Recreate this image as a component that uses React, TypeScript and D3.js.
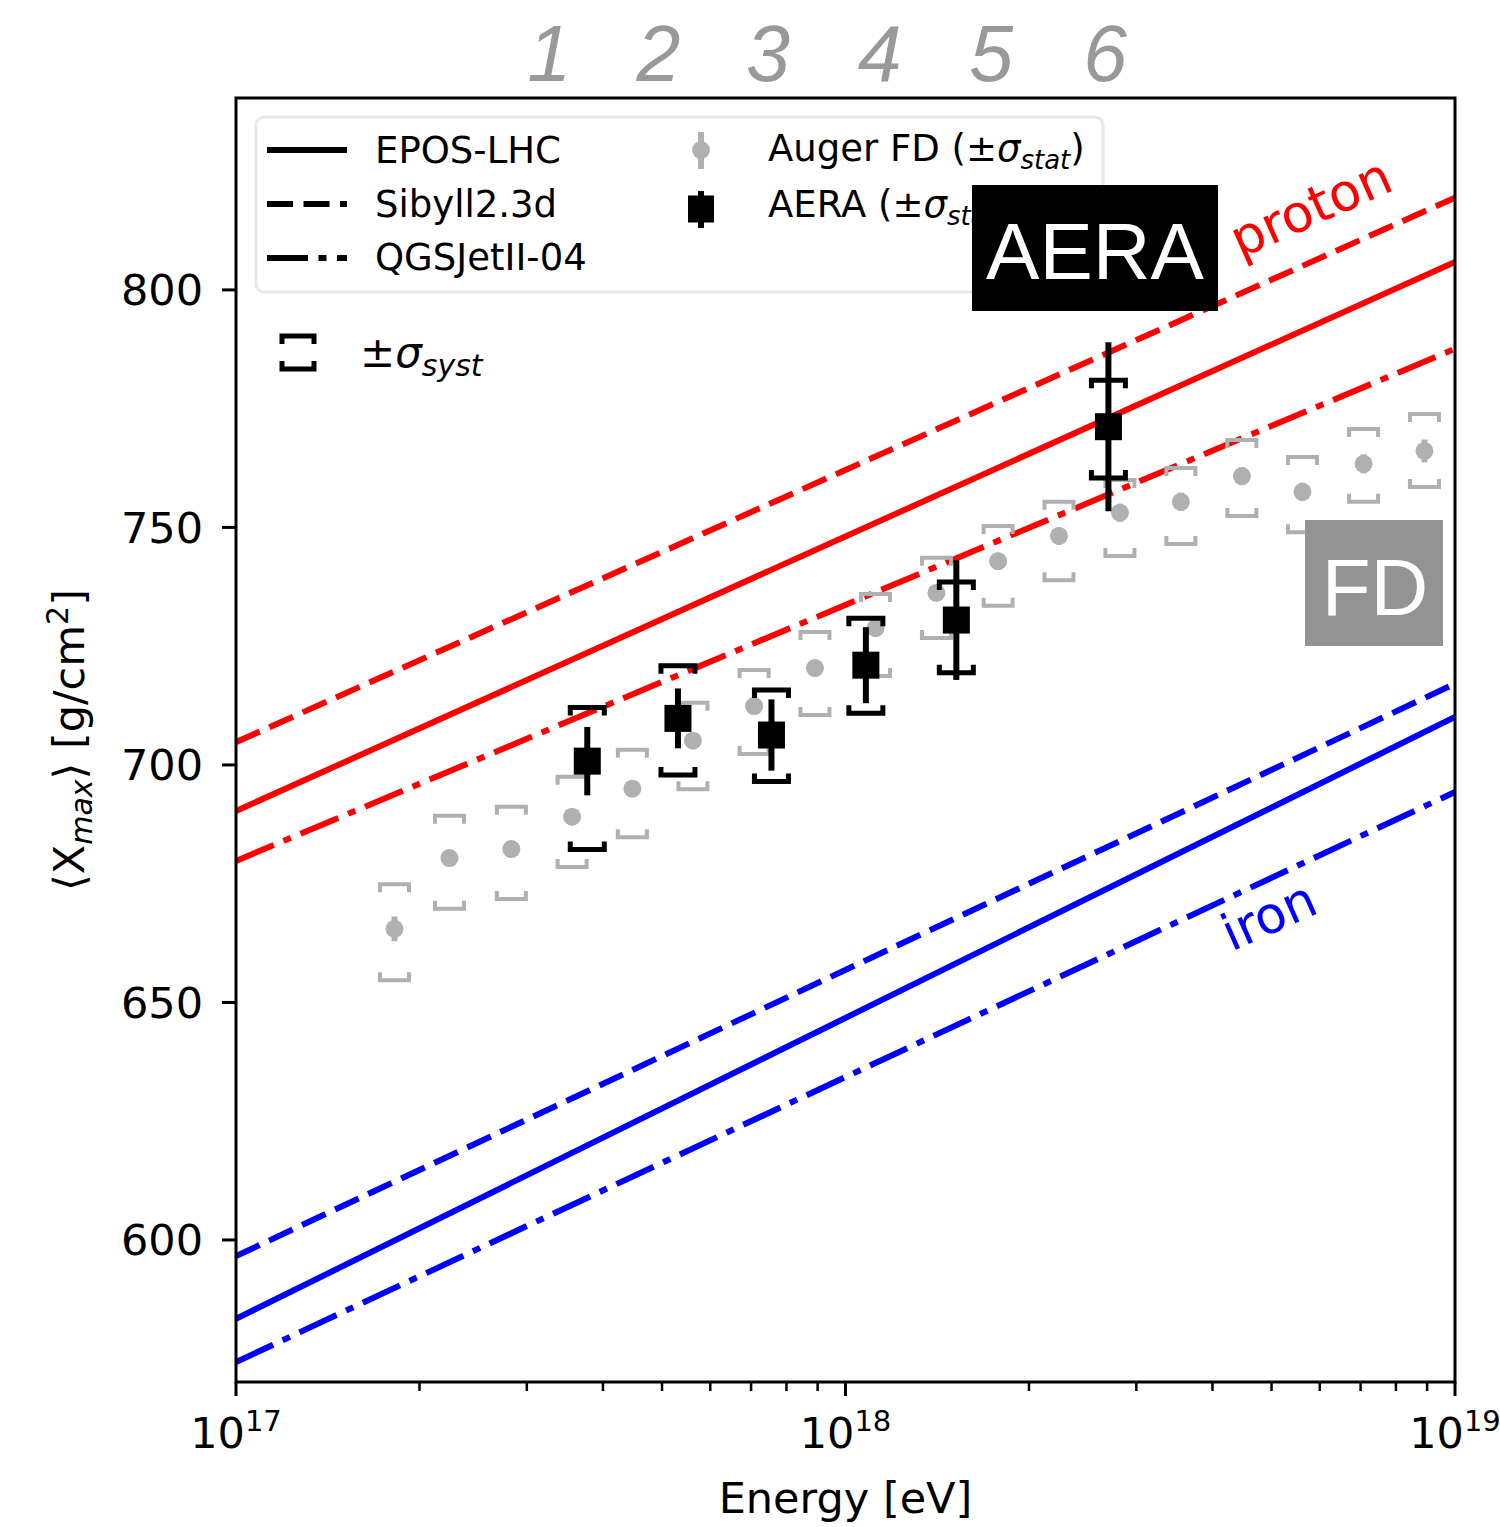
import React from "react";
import * as d3 from "d3";

// ---------- data ----------
const modelNames = ["EPOS-LHC", "Sibyll2.3d", "QGSJetII-04"];
const modelDash = ["", "26 10.5", "41 10.5 8 10.5"];
const lineEnergies = [1e17, 1e19];
const protonLines = [
  [690.3, 805.9],
  [704.8, 819.4],
  [679.8, 787.6],
];
const ironLines = [
  [583.4, 710.1],
  [596.6, 717.1],
  [574.3, 694.3],
];

// Auger FD (energies in EeV)
const fdEnergy = [0.182, 0.224, 0.283, 0.356, 0.447, 0.562, 0.708, 0.891, 1.12, 1.41, 1.78, 2.24, 2.82, 3.55, 4.47, 5.62, 7.08, 8.91];
const fdXmax = [665.5, 680.4, 682.3, 689.1, 695.0, 705.1, 712.4, 720.4, 728.8, 736.2, 742.9, 748.2, 753.1, 755.4, 760.8, 757.5, 763.4, 766.1];
const fdStat = [2.6, 1.5, 1.4, 1.5, 1.5, 1.5, 1.5, 1.6, 1.6, 1.7, 1.8, 1.8, 1.9, 1.9, 1.9, 1.9, 2.0, 2.4];
const fdSysUp = [674.9, 689.3, 691.2, 697.5, 703.2, 713.1, 720.0, 728.0, 736.0, 743.6, 750.3, 755.4, 760.0, 762.5, 768.4, 764.8, 770.7, 773.9];
const fdSysLow = [654.7, 669.7, 671.8, 678.5, 684.8, 694.9, 702.3, 710.5, 718.7, 726.7, 733.5, 738.9, 744.0, 746.5, 752.4, 749.0, 755.4, 758.5];

// AERA
const aeraEnergy = [0.377, 0.531, 0.756, 1.08, 1.52, 2.70];
const aeraXmax = [700.8, 709.8, 706.3, 721.0, 730.5, 771.2];
const aeraStat = [7.2, 6.3, 7.5, 8.0, 12.6, 17.8];
const aeraSysUp = [712.1, 720.9, 715.8, 730.9, 738.5, 781.0];
const aeraSysLow = [682.2, 697.9, 696.5, 710.9, 719.4, 760.4];

// bin numbers on top (log10 E/eV)
const binLabels = ["1", "2", "3", "4", "5", "6"];
const binLogE = [17.514, 17.693, 17.873, 18.056, 18.239, 18.426];

const yTicks = [600, 650, 700, 750, 800];
const xMajor = [17, 18, 19];

// ---------- layout ----------
const W = 1500, H = 1527;
const L = 236, R = 1455, T = 98, B = 1382;
const FONT = "DejaVu Sans";

export default function App() {
  const x = d3.scaleLog().domain([1e17, 1e19]).range([L, R]);
  const y = d3.scaleLinear().domain([570.1, 840.4]).range([B, T]);
  const line = d3.line<[number, number]>().x((d) => x(d[0])).y((d) => y(d[1]));

  const minor: number[] = [];
  for (const dec of [1e17, 1e18]) for (let k = 2; k <= 9; k++) minor.push(dec * k);

  const bracket = (cx: number, cy: number, w: number, leg: number, dir: number) =>
    `M${cx - w / 2},${cy + dir * leg} L${cx - w / 2},${cy} L${cx + w / 2},${cy} L${cx + w / 2},${cy + dir * leg}`;

  const grey = "#b0b0b0";

  return (
    <svg width={W} height={H} style={{ position: "absolute", left: 0, top: 0, background: "#fff" }} fontFamily={FONT}>
      <rect x={0} y={0} width={W} height={H} fill="#fff" />
      <defs>
        <clipPath id="plot">
          <rect x={L} y={T} width={R - L} height={B - T} />
        </clipPath>
      </defs>

      {/* model lines */}
      <g clipPath="url(#plot)" fill="none" strokeWidth={6}>
        {protonLines.map((v, i) => (
          <path key={"p" + i} d={line(lineEnergies.map((e, j) => [e, v[j]]) as any) || ""} stroke="#ff0000" strokeDasharray={modelDash[i] || undefined} />
        ))}
        {ironLines.map((v, i) => (
          <path key={"f" + i} d={line(lineEnergies.map((e, j) => [e, v[j]]) as any) || ""} stroke="#0000ff" strokeDasharray={modelDash[i] || undefined} />
        ))}
      </g>

      {/* Auger FD */}
      <g>
        {fdEnergy.map((e, i) => {
          const cx = x(e * 1e18);
          return (
            <g key={"fd" + i}>
              <path d={bracket(cx, y(fdSysUp[i]), 29, 8, 1)} stroke={grey} strokeWidth={4} fill="none" />
              <path d={bracket(cx, y(fdSysLow[i]), 29, 8, -1)} stroke={grey} strokeWidth={4} fill="none" />
              <line x1={cx} x2={cx} y1={y(fdXmax[i] + fdStat[i])} y2={y(fdXmax[i] - fdStat[i])} stroke={grey} strokeWidth={6} />
              <circle cx={cx} cy={y(fdXmax[i])} r={9} fill={grey} />
            </g>
          );
        })}
      </g>

      {/* AERA */}
      <g>
        {aeraEnergy.map((e, i) => {
          const cx = x(e * 1e18);
          const cy = y(aeraXmax[i]);
          return (
            <g key={"ae" + i}>
              <path d={bracket(cx, y(aeraSysUp[i]), 34, 8, 1)} stroke="#000" strokeWidth={5} fill="none" />
              <path d={bracket(cx, y(aeraSysLow[i]), 34, 8, -1)} stroke="#000" strokeWidth={5} fill="none" />
              <line x1={cx} x2={cx} y1={y(aeraXmax[i] + aeraStat[i])} y2={y(aeraXmax[i] - aeraStat[i])} stroke="#000" strokeWidth={6} />
              <rect x={cx - 13.5} y={cy - 13.5} width={27} height={27} fill="#000" />
            </g>
          );
        })}
      </g>

      {/* legend */}
      <rect x={256} y={117} width={847} height={175} rx={8} fill="#fff" fillOpacity={0.8} stroke="#e8e8e8" strokeWidth={3} />
      {modelNames.map((n, i) => (
        <g key={"lg" + i}>
          <line x1={267} x2={347} y1={150 + i * 54} y2={150 + i * 54} stroke="#000" strokeWidth={6} strokeDasharray={modelDash[i] || undefined} />
          <text x={375} y={163 + i * 53.5} fontSize={37}>{n}</text>
        </g>
      ))}
      <line x1={701} x2={701} y1={132} y2={169} stroke={grey} strokeWidth={6} />
      <circle cx={701} cy={150} r={9} fill={grey} />
      <text x={768} y={161} fontSize={37}>
        Auger FD (±<tspan fontStyle="italic">σ</tspan>
        <tspan fontStyle="italic" fontSize={26} dy={8}>stat</tspan>
        <tspan dy={-8}>)</tspan>
      </text>
      <line x1={701} x2={701} y1={191} y2={228} stroke="#000" strokeWidth={6} />
      <rect x={688} y={195.5} width={26} height={27} fill="#000" />
      <text x={768} y={217} fontSize={37}>
        AERA (±<tspan fontStyle="italic">σ</tspan>
        <tspan fontStyle="italic" fontSize={26} dy={8}>stat</tspan>
        <tspan dy={-8}>)</tspan>
      </text>

      {/* syst legend */}
      <path d={bracket(298, 336, 32, 8, 1)} stroke="#000" strokeWidth={5} fill="none" />
      <path d={bracket(298, 369, 32, 8, -1)} stroke="#000" strokeWidth={5} fill="none" />
      <text x={360} y={367} fontSize={42}>
        ±<tspan fontStyle="italic">σ</tspan>
        <tspan fontStyle="italic" fontSize={30} dy={9}>syst</tspan>
      </text>

      {/* AERA box */}
      <rect x={972} y={185} width={246} height={126} fill="#000" />
      <text x={1095} y={279} fontSize={80} fill="#fff" textAnchor="middle" fontFamily="Liberation Sans">AERA</text>

      {/* FD box */}
      <rect x={1305} y={520} width={138} height={126} fill="#939393" />
      <text x={1375} y={615} fontSize={80} fill="#fff" textAnchor="middle" fontFamily="Liberation Sans">FD</text>

      {/* proton / iron labels */}
      <text transform="translate(1318,224) rotate(-24)" fontSize={52} fill="#ff0000" textAnchor="middle">proton</text>
      <text transform="translate(1276,932) rotate(-24)" fontSize={51} fill="#0000ff" textAnchor="middle">iron</text>

      {/* bin numbers */}
      {binLabels.map((b, i) => (
        <text key={"b" + i} x={x(Math.pow(10, binLogE[i]))} y={81} fontSize={79} fill="#999" fontStyle="italic" textAnchor="middle" fontFamily="Liberation Sans">{b}</text>
      ))}

      {/* axes frame */}
      <rect x={L} y={T} width={R - L} height={B - T} fill="none" stroke="#000" strokeWidth={3} />

      {/* y ticks */}
      {yTicks.map((t) => (
        <g key={"yt" + t}>
          <line x1={L - 14} x2={L} y1={y(t)} y2={y(t)} stroke="#000" strokeWidth={3} />
          <text x={L - 33} y={y(t) + 15.5} fontSize={43} textAnchor="end">{t}</text>
        </g>
      ))}

      {/* x ticks */}
      {minor.map((m, i) => (
        <line key={"mn" + i} x1={x(m)} x2={x(m)} y1={B} y2={B + 9} stroke="#000" strokeWidth={2.5} />
      ))}
      {xMajor.map((p) => (
        <g key={"xt" + p}>
          <line x1={x(Math.pow(10, p))} x2={x(Math.pow(10, p))} y1={B} y2={B + 14} stroke="#000" strokeWidth={3} />
          <text x={x(Math.pow(10, p))} y={1448} fontSize={43} textAnchor="middle">
            10<tspan fontSize={29} dy={-17}>{p}</tspan>
          </text>
        </g>
      ))}

      {/* axis labels */}
      <text x={(L + R) / 2} y={1513} fontSize={43} textAnchor="middle">Energy [eV]</text>
      <text transform={`translate(84,${(T + B) / 2}) rotate(-90)`} fontSize={43} textAnchor="middle">
        ⟨X<tspan fontStyle="italic" fontSize={30} dy={8}>max</tspan>
        <tspan dy={-8}>⟩ [g/cm</tspan>
        <tspan fontSize={30} dy={-16}>2</tspan>
        <tspan dy={16}>]</tspan>
      </text>
    </svg>
  );
}
